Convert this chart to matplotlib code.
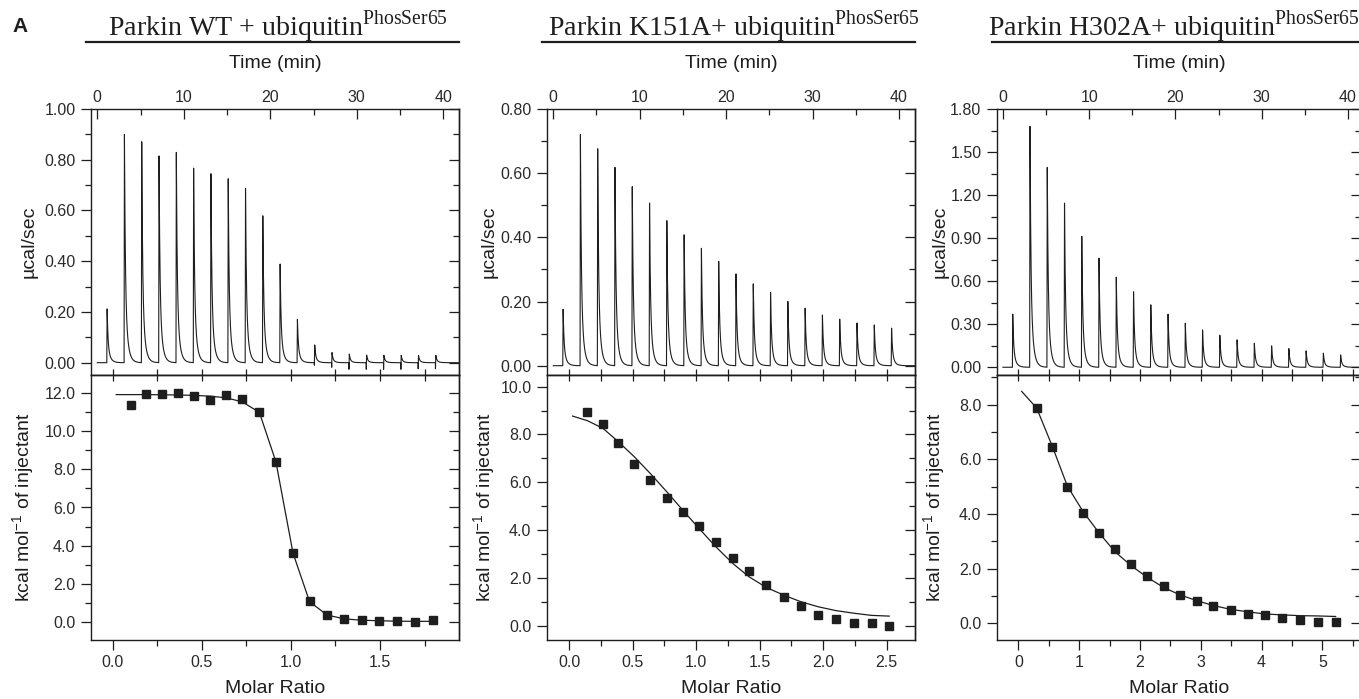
import numpy as np
import matplotlib
matplotlib.use("Agg")
import matplotlib.pyplot as plt
from matplotlib.ticker import MultipleLocator, FormatStrFormatter

plt.rcParams['font.family'] = ['Liberation Sans', 'DejaVu Sans']
plt.rcParams['mathtext.fontset'] = 'custom'
plt.rcParams['mathtext.rm'] = 'Liberation Serif'
plt.rcParams['mathtext.sf'] = 'Liberation Sans'
plt.rcParams['axes.linewidth'] = 1.0

INK = '#1e1e1e'

# ---- data ----
titles = ["Parkin WT + ubiquitin", "Parkin K151A+ ubiquitin", "Parkin H302A+ ubiquitin"]

# injection times (min), same for all three runs
inj_time = [1.1, 3.1, 5.1, 7.1, 9.1, 11.1, 13.1, 15.1, 17.1, 19.1,
            21.1, 23.1, 25.1, 27.1, 29.1, 31.1, 33.1, 35.1, 37.1, 39.1]

# raw heat peaks (ucal/sec)
wt_peaks = [0.212, 0.900, 0.871, 0.815, 0.829, 0.767, 0.745, 0.725, 0.687, 0.579,
            0.389, 0.171, 0.070, 0.040, 0.034, 0.030, 0.029, 0.029, 0.029, 0.029]
wt_dips = [0, 0, 0, 0, 0, 0, 0, 0, 0, 0,
           0, 0, -0.010, -0.018, -0.026, -0.026, -0.026, -0.026, -0.024, -0.024]
k151_peaks = [0.176, 0.720, 0.676, 0.618, 0.558, 0.507, 0.452, 0.408, 0.366, 0.325,
              0.286, 0.255, 0.228, 0.200, 0.179, 0.158, 0.145, 0.133, 0.127, 0.117]
h302_peaks = [0.370, 1.679, 1.393, 1.144, 0.912, 0.760, 0.628, 0.526, 0.435, 0.370,
              0.307, 0.260, 0.223, 0.191, 0.167, 0.149, 0.130, 0.114, 0.098, 0.086]
no_dips = [0] * 20

# integrated heats (kcal/mol of injectant) vs molar ratio
wt_ratio = [0.101, 0.189, 0.279, 0.365, 0.454, 0.546, 0.638, 0.727, 0.823, 0.916,
            1.012, 1.105, 1.203, 1.300, 1.397, 1.496, 1.597, 1.698, 1.799]
wt_heat = [11.39, 11.97, 11.97, 12.00, 11.88, 11.67, 11.90, 11.70, 11.00, 8.37,
           3.59, 1.07, 0.33, 0.12, 0.07, 0.04, 0.04, 0.00, 0.07]
wt_fit_x = [0.02, 0.101, 0.189, 0.279, 0.365, 0.454, 0.546, 0.638, 0.727, 0.823, 0.916,
            1.012, 1.105, 1.203, 1.300, 1.397, 1.496, 1.597, 1.698, 1.799]
wt_fit_y = [11.93, 11.93, 11.93, 11.92, 11.91, 11.89, 11.85, 11.76, 11.55, 11.00, 8.40,
            3.60, 1.05, 0.35, 0.15, 0.08, 0.05, 0.03, 0.02, 0.02]

k151_ratio = [0.142, 0.265, 0.386, 0.512, 0.638, 0.767, 0.893, 1.022, 1.153, 1.287,
              1.415, 1.552, 1.689, 1.825, 1.962, 2.101, 2.243, 2.382, 2.521]
k151_heat = [8.93, 8.44, 7.66, 6.76, 6.09, 5.36, 4.76, 4.18, 3.50, 2.85,
             2.27, 1.70, 1.21, 0.84, 0.43, 0.27, 0.11, 0.10, 0.00]
k151_fit_x = [0.026, 0.142, 0.265, 0.386, 0.512, 0.638, 0.767, 0.893, 1.022, 1.153, 1.287,
              1.415, 1.552, 1.689, 1.825, 1.962, 2.101, 2.243, 2.382, 2.521]
k151_fit_y = [8.77, 8.58, 8.26, 7.70, 7.07, 6.37, 5.61, 4.84, 4.07, 3.31, 2.61,
              2.05, 1.60, 1.28, 1.00, 0.79, 0.63, 0.52, 0.43, 0.40]

h302_ratio = [0.302, 0.559, 0.806, 1.069, 1.327, 1.584, 1.853, 2.116, 2.390, 2.659,
              2.933, 3.207, 3.492, 3.777, 4.057, 4.342, 4.627, 4.923, 5.219]
h302_heat = [7.86, 6.46, 5.00, 4.03, 3.32, 2.70, 2.17, 1.72, 1.35, 1.04,
             0.83, 0.64, 0.49, 0.34, 0.29, 0.21, 0.11, 0.06, 0.04]
h302_fit_x = [0.055, 0.302, 0.559, 0.806, 1.069, 1.327, 1.584, 1.853, 2.116, 2.390, 2.659,
              2.933, 3.207, 3.492, 3.777, 4.057, 4.342, 4.627, 4.923, 5.219]
h302_fit_y = [8.48, 7.87, 6.47, 5.02, 4.07, 3.31, 2.63, 2.11, 1.69, 1.31, 1.04,
              0.83, 0.65, 0.51, 0.42, 0.34, 0.31, 0.28, 0.27, 0.25]

panels = [
    dict(title=titles[0], peaks=wt_peaks, dips=wt_dips,
         rx=wt_ratio, ry=wt_heat, fx=wt_fit_x, fy=wt_fit_y,
         left=90.7, right=459, title_cx=277.5,
         txlim=(-0.76, 41.82), tylim=(-0.0485, 1.0), tmaj=0.2, tmin=0.1,
         bxlim=(-0.123, 1.943), bylim=(-0.96, 12.96), bxmaj=0.5, bxmin=0.25, bxfmt='%.1f',
         ylab_x=-0.145),
    dict(title=titles[1], peaks=k151_peaks, dips=no_dips,
         rx=k151_ratio, ry=k151_heat, fx=k151_fit_x, fy=k151_fit_y,
         left=546.7, right=915, title_cx=733.5,
         txlim=(-0.76, 41.85), tylim=(-0.029, 0.8), tmaj=0.2, tmin=0.1,
         bxlim=(-0.178, 2.724), bylim=(-0.60, 10.49), bxmaj=0.5, bxmin=0.25, bxfmt='%.1f',
         ylab_x=-0.133),
    dict(title=titles[2], peaks=h302_peaks, dips=no_dips,
         rx=h302_ratio, ry=h302_heat, fx=h302_fit_x, fy=h302_fit_y,
         left=996.7, right=1361, title_cx=1174,
         txlim=(-0.72, 41.5), tylim=(-0.054, 1.8), tmaj=0.3, tmin=0.15,
         bxlim=(-0.356, 5.636), bylim=(-0.61, 9.08), bxmaj=1, bxmin=0.5, bxfmt='%d',
         ylab_x=-0.133),
]

W, H = 1359, 699
TOP, MID, BOT = 109, 375, 640


def raw_trace(times, peaks, dips, t_end):
    # thin spike at each injection, fast rise then exponential return to baseline
    xs, ys = [0.0], [0.0]
    for i, (ti, h, d) in enumerate(zip(times, peaks, dips)):
        nxt = times[i + 1] if i + 1 < len(times) else t_end
        xs += [ti - 0.01, ti, ti + 0.04]
        ys += [0.0, d, h]
        dt = np.linspace(0.0, nxt - ti - 0.06, 250)
        xs += list(ti + 0.04 + dt)
        ys += list(h * (0.65 * np.exp(-dt / 0.1) + 0.35 * np.exp(-dt / 0.3)))
    return xs, ys


def style_ticks(ax):
    ax.tick_params(which='both', colors=INK, labelcolor='#2a2a2a', labelsize=11.5, width=0.9)
    ax.tick_params(which='major', length=7)
    ax.tick_params(which='minor', length=4)
    for s in ax.spines.values():
        s.set_color(INK)


fig = plt.figure(figsize=(W / 100, H / 100), dpi=100)

for p in panels:
    l, r = p['left'], p['right']
    axt = fig.add_axes([l / W, 1 - MID / H, (r - l) / W, (MID - TOP) / H])
    axb = fig.add_axes([l / W, 1 - BOT / H, (r - l) / W, (BOT - MID) / H])

    # raw thermogram
    tx, ty = raw_trace(inj_time, p['peaks'], p['dips'], p['txlim'][1])
    axt.plot(tx, ty, color=INK, lw=0.8)
    axt.set_xlim(*p['txlim'])
    axt.set_ylim(*p['tylim'])
    axt.xaxis.set_major_locator(MultipleLocator(10))
    axt.xaxis.set_minor_locator(MultipleLocator(5))
    axt.yaxis.set_major_locator(MultipleLocator(p['tmaj']))
    axt.yaxis.set_minor_locator(MultipleLocator(p['tmin']))
    axt.yaxis.set_major_formatter(FormatStrFormatter('%.2f'))
    axt.xaxis.tick_top()
    style_ticks(axt)
    axt.tick_params(axis='x', which='both', direction='in', top=True, bottom=False,
                    labeltop=True, labelbottom=False, pad=3)
    axt.tick_params(axis='y', which='both', direction='out', left=True, right=False, pad=4)
    rt = axt.secondary_yaxis('right')
    rt.yaxis.set_major_locator(MultipleLocator(p['tmaj']))
    rt.yaxis.set_minor_locator(MultipleLocator(p['tmin']))
    style_ticks(rt)
    rt.tick_params(which='both', direction='in', labelright=False)
    axt.set_ylabel('µcal/sec', fontsize=14, color=INK)
    axt.yaxis.set_label_coords(p['ylab_x'], 0.5)
    axt.text(0.5, 1 + (TOP - 64) / (MID - TOP), 'Time (min)', transform=axt.transAxes,
             ha='center', va='center', fontsize=14, color=INK)

    # title with rule under it
    fig.text(p['title_cx'] / W, 1 - 35 / H, p['title'] + r'$^{\mathrm{PhosSer65}}$',
             ha='center', va='baseline', fontsize=20.2, family='Liberation Serif', color=INK)
    ry = 1 + (TOP - 42) / (MID - TOP)
    axt.plot([-0.013, 1.0], [ry, ry], transform=axt.transAxes, color=INK, lw=1.6,
             clip_on=False)

    # integrated heats and fit
    axb.plot(p['fx'], p['fy'], color=INK, lw=0.9)
    axb.plot(p['rx'], p['ry'], 's', color=INK, ms=5.8, mec=INK)
    axb.set_xlim(*p['bxlim'])
    axb.set_ylim(*p['bylim'])
    axb.xaxis.set_major_locator(MultipleLocator(p['bxmaj']))
    axb.xaxis.set_minor_locator(MultipleLocator(p['bxmin']))
    axb.xaxis.set_major_formatter(FormatStrFormatter(p['bxfmt']))
    axb.yaxis.set_major_locator(MultipleLocator(2))
    axb.yaxis.set_minor_locator(MultipleLocator(1))
    axb.yaxis.set_major_formatter(FormatStrFormatter('%.1f'))
    style_ticks(axb)
    axb.tick_params(which='both', direction='out', top=False, right=False, pad=4)
    tb = axb.secondary_xaxis('top')
    tb.xaxis.set_major_locator(MultipleLocator(p['bxmaj']))
    tb.xaxis.set_minor_locator(MultipleLocator(p['bxmin']))
    style_ticks(tb)
    tb.tick_params(which='both', direction='inout', length=9, labeltop=False)
    rb = axb.secondary_yaxis('right')
    rb.yaxis.set_major_locator(MultipleLocator(2))
    rb.yaxis.set_minor_locator(MultipleLocator(1))
    style_ticks(rb)
    rb.tick_params(which='both', direction='in', labelright=False)
    axb.set_ylabel(r'kcal mol$^{\mathsf{-1}}$ of injectant', fontsize=14, color=INK)
    axb.yaxis.set_label_coords(p['ylab_x'], 0.5)
    axb.set_xlabel('Molar Ratio', fontsize=14, color=INK)
    axb.xaxis.set_label_coords(0.5, -(680 - BOT) / (BOT - MID))

fig.text(12 / W, 1 - 27 / H, 'A', fontsize=15, fontweight='bold', color=INK,
         ha='left', va='center')

fig.savefig('out.png', dpi=100)
